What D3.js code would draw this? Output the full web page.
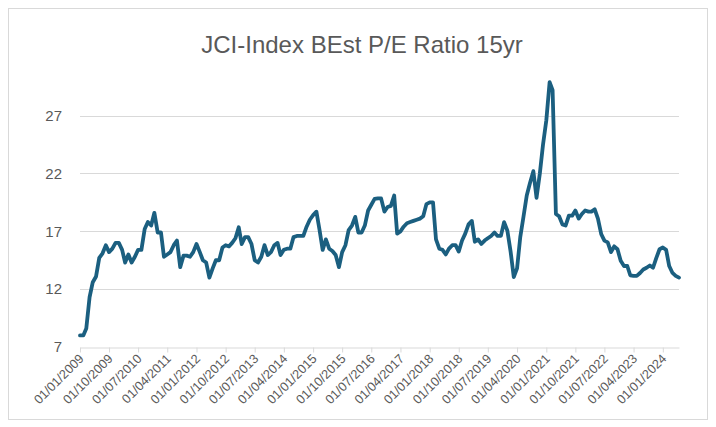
<!DOCTYPE html>
<html lang="en">
<head>
    <meta charset="UTF-8">
    <title>JCI-Index BEst P/E Ratio 15yr</title>
    <script src="https://d3js.org/d3.v7.min.js"></script>
    <style>
        body { margin: 0; background: #fff; font-family: "Liberation Sans", Arial, sans-serif; }
    </style>
</head>
<body>
    <div id="chart"></div>
    <script>
        // monthly values, Jan 2009 .. Jun 2024
        const startYear = 2009;
        const peValues = [
            8.0, 8.0, 8.6, 11.3, 12.6, 13.1, 14.7, 15.1, 15.8, 15.2,
            15.5, 16.0, 16.0, 15.4, 14.3, 15.0, 14.3, 14.8, 15.4, 15.4,
            17.2, 17.8, 17.5, 18.6, 16.9, 16.9, 14.8, 15.0, 15.2, 15.8,
            16.2, 13.9, 14.9, 14.9, 14.8, 15.2, 15.9, 15.2, 14.5, 14.3,
            13.0, 13.8, 14.5, 14.5, 15.6, 15.8, 15.7, 16.0, 16.4, 17.35,
            15.9, 16.5, 16.5, 15.9, 14.5, 14.3, 14.8, 15.8, 14.95, 15.2,
            15.8, 16.0, 14.95, 15.4, 15.5, 15.5, 16.5, 16.6, 16.6, 16.6,
            17.4, 18.0, 18.4, 18.7, 17.2, 15.4, 16.3, 15.5, 15.3, 14.95,
            13.9, 15.2, 15.8, 17.1, 17.5, 18.25, 16.9, 16.9, 17.5, 18.8,
            19.3, 19.8, 19.85, 19.85, 18.7, 19.1, 19.2, 20.1, 16.8, 17.0,
            17.4, 17.7, 17.8, 17.9, 18.0, 18.1, 18.3, 19.35, 19.5, 19.5,
            16.3, 15.5, 15.4, 15.0, 15.5, 15.8, 15.8, 15.25, 16.2, 16.8,
            17.6, 17.9, 16.1, 16.3, 15.9, 16.2, 16.4, 16.6, 16.9, 16.6,
            16.6, 17.8, 17.05, 15.2, 13.05, 13.8, 16.5, 18.3, 20.1, 21.2,
            22.2, 19.9, 22.0, 24.5, 26.6, 29.9, 29.2, 18.5, 18.3, 17.6,
            17.5, 18.35, 18.35, 18.8, 18.1, 18.5, 18.8, 18.7, 18.7, 18.9,
            18.1, 16.75, 16.2, 16.05, 15.2, 15.7, 15.45, 14.45, 14.0, 14.0,
            13.2, 13.15, 13.15, 13.4, 13.7, 13.85, 14.05, 13.85, 14.7, 15.45,
            15.6, 15.4, 14.0, 13.4, 13.15, 13.0
        ];
        const yTicks = [7, 12, 17, 22, 27];
        const tickMonthStep = 9;
        const lastTickMonth = 180;

        const data = peValues.map((v, i) => ({ date: new Date(Date.UTC(startYear, i, 1)), value: v }));
        const xTickDates = d3.range(0, lastTickMonth + 1, tickMonthStep)
            .map(m => new Date(Date.UTC(startYear, m, 1)));

        const width = 716, height = 427;
        const svg = d3.select("#chart").append("svg")
            .attr("width", width)
            .attr("height", height);

        svg.append("rect")
            .attr("x", 8.5).attr("y", 8.5)
            .attr("width", 699).attr("height", 411)
            .attr("fill", "#fff")
            .attr("stroke", "#d9d9d9");

        svg.append("text")
            .attr("x", 362).attr("y", 53)
            .attr("text-anchor", "middle")
            .attr("fill", "#595959")
            .style("font-size", "24px")
            .text("JCI-Index BEst P/E Ratio 15yr");

        const x = d3.scaleUtc()
            .domain([data[0].date, data[data.length - 1].date])
            .range([80, 679]);
        const y = d3.scaleLinear().domain([7, 32]).range([347, 57.8]);

        // gridlines
        svg.append("g")
            .selectAll("line")
            .data(yTicks.slice(1))
            .join("line")
            .attr("x1", 80).attr("x2", 679)
            .attr("y1", d => Math.round(y(d)) + 0.5)
            .attr("y2", d => Math.round(y(d)) + 0.5)
            .attr("stroke", "#d9d9d9");

        // y labels
        svg.append("g")
            .selectAll("text")
            .data(yTicks)
            .join("text")
            .attr("x", 62)
            .attr("y", d => y(d))
            .attr("dy", "0.35em")
            .attr("text-anchor", "end")
            .attr("fill", "#595959")
            .style("font-size", "15px")
            .text(d => d);

        // x axis
        const xAxis = svg.append("g")
            .attr("transform", `translate(0,${Math.round(y(7)) + 0.5})`)
            .call(d3.axisBottom(x)
                .tickValues(xTickDates)
                .tickSize(5)
                .tickSizeOuter(0)
                .tickFormat(d3.utcFormat("%d/%m/%Y")));
        xAxis.select(".domain").attr("stroke", "#d9d9d9");
        xAxis.selectAll(".tick line").attr("stroke", "#d9d9d9");
        xAxis.selectAll(".tick text")
            .attr("fill", "#595959")
            .style("font-size", "12.8px")
            .style("font-family", "'Liberation Sans', Arial, sans-serif")
            .attr("text-anchor", "end")
            .attr("dy", null)
            .attr("y", 0)
            .attr("transform", "translate(4,12) rotate(-45)");

        const line = d3.line()
            .x(d => x(d.date))
            .y(d => y(d.value));

        svg.append("path")
            .datum(data)
            .attr("fill", "none")
            .attr("stroke", "#1b5f80")
            .attr("stroke-width", 3.8)
            .attr("stroke-linejoin", "round")
            .attr("stroke-linecap", "round")
            .attr("d", line);
    </script>
</body>
</html>
